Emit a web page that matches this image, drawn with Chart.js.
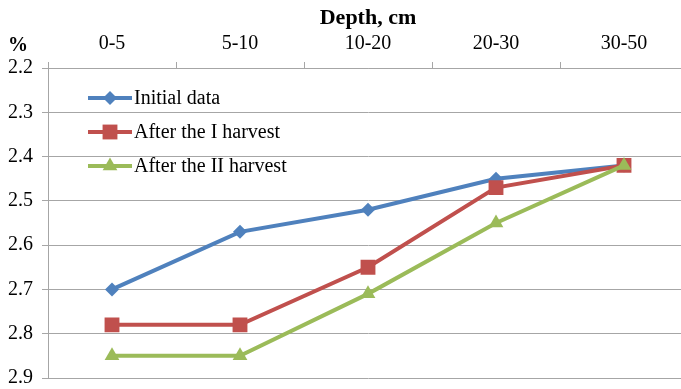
<!DOCTYPE html>
<html>
<head>
<meta charset="utf-8">
<script src="https://cdn.jsdelivr.net/npm/chart.js@4/dist/chart.umd.min.js"></script>
<style>
  html, body { margin: 0; padding: 0; background: #fff; overflow: hidden; }
  #wrap { width: 681px; height: 389px; overflow: hidden; }
</style>
</head>
<body>
<div id="wrap"><canvas id="chart" width="688" height="389"></canvas></div>
<script>
// Datos del gráfico
const depthLabels = ["0-5", "5-10", "10-20", "20-30", "30-50"];
const initialData = [2.70, 2.57, 2.52, 2.45, 2.42];
const harvest1Data = [2.78, 2.78, 2.65, 2.47, 2.42];
const harvest2Data = [2.85, 2.85, 2.71, 2.55, 2.42];
const seriesNames = ["Initial data", "After the I harvest", "After the II harvest"];
const yMin = 2.2, yMax = 2.9, yStep = 0.1;

const fontFamily = "'Liberation Serif', 'Times New Roman', serif";
const gridColor = "#a6a6a6";

// Quitar el relleno automático que Chart.js reserva para las etiquetas
function fixPadding(s) {
    s.paddingLeft = 0;
    s.paddingRight = 0;
    s.paddingTop = 0;
    s.paddingBottom = 0;
}

// Leyenda dibujada dentro del área del gráfico
const innerLegend = {
    id: "innerLegend",
    afterDraw(chart) {
        const ctx = chart.ctx;
        const area = chart.chartArea;
        const x0 = area.left + 40;
        let y = area.top + 30;
        ctx.save();
        chart.data.datasets.forEach(ds => {
            ctx.strokeStyle = ds.borderColor;
            ctx.lineWidth = 4;
            ctx.beginPath();
            ctx.moveTo(x0, y);
            ctx.lineTo(x0 + 44, y);
            ctx.stroke();
            ctx.fillStyle = ds.backgroundColor;
            Chart.helpers.drawPoint(ctx, {
                pointStyle: ds.pointStyle,
                radius: ds.pointRadius,
                borderWidth: 0
            }, x0 + 22, y);
            ctx.fillStyle = "#000";
            ctx.font = "20px " + fontFamily;
            ctx.textAlign = "left";
            ctx.textBaseline = "middle";
            ctx.fillText(ds.label, x0 + 46, y + 1);
            y += 34;
        });
        // símbolo de porcentaje
        ctx.font = "bold 20px " + fontFamily;
        ctx.fillText("%", 8, 46);
        ctx.restore();
    }
};

const ctx = document.getElementById("chart").getContext("2d");
new Chart(ctx, {
    type: "line",
    data: {
        labels: depthLabels,
        datasets: [
            { label: seriesNames[0], data: initialData, borderColor: "#4f81bd", backgroundColor: "#4f81bd",
              pointStyle: "rectRot", pointRadius: 7, order: 2 },
            { label: seriesNames[1], data: harvest1Data, borderColor: "#c0504d", backgroundColor: "#c0504d",
              pointStyle: "rect", pointRadius: 10.5, order: 1 },
            { label: seriesNames[2], data: harvest2Data, borderColor: "#9bbb59", backgroundColor: "#9bbb59",
              pointStyle: "triangle", pointRadius: 8.5, order: 0 }
        ]
    },
    options: {
        responsive: false,
        animation: false,
        layout: { autoPadding: false, padding: { top: 0, left: 0, right: 0, bottom: 11 } },
        elements: {
            line: { borderWidth: 4, tension: 0 },
            point: { borderWidth: 0, hoverRadius: 8 }
        },
        plugins: {
            legend: { display: false },
            tooltip: { enabled: false }
        },
        scales: {
            x: {
                position: "top",
                offset: true,
                grid: { offset: true, drawOnChartArea: false, drawTicks: true, tickLength: 6, color: gridColor },
                border: { color: gridColor },
                ticks: { color: "#000", padding: 6, font: { family: fontFamily, size: 20 } },
                title: { display: true, text: "Depth, cm", color: "#000",
                         font: { family: fontFamily, size: 22, weight: "bold" }, padding: { top: 5, bottom: 0 } },
                afterFit: s => { s.height = 68; fixPadding(s); }
            },
            y: {
                reverse: true,
                min: yMin,
                max: yMax,
                grid: { color: gridColor, tickLength: 6 },
                border: { color: gridColor },
                ticks: { stepSize: yStep, color: "#000", padding: 9,
                         font: { family: fontFamily, size: 20 },
                         callback: v => v.toFixed(1) },
                afterFit: s => { s.width = 48; fixPadding(s); }
            }
        }
    },
    plugins: [innerLegend]
});
</script>
</body>
</html>
